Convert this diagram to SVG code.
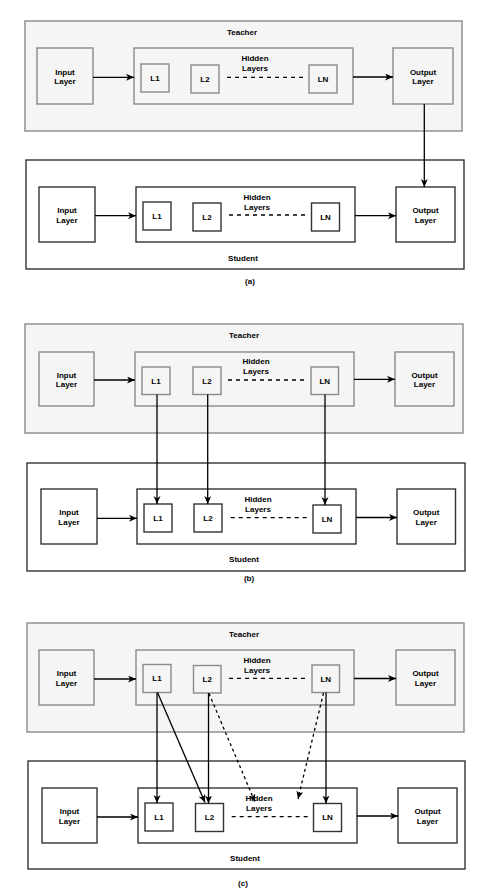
<svg xmlns="http://www.w3.org/2000/svg" width="484" height="889" viewBox="0 0 484 889">
<style>
.t{fill:#f5f5f5;stroke:#8a8a8a;stroke-width:1.4}
.s{fill:#ffffff;stroke:#333333;stroke-width:1.4}
text{font-family:"Liberation Sans",Arial,sans-serif;font-size:8px;font-weight:bold;fill:#000;text-anchor:middle}
.c{stroke:#000;stroke-width:1.3;fill:none}
.a{marker-end:url(#ah)}
.d{stroke-dasharray:4 4}
.d3{stroke-dasharray:3 3}
.bg{fill:#ffffff}
</style>
<defs>
<marker id="ah" markerUnits="userSpaceOnUse" markerWidth="9" markerHeight="8" refX="8" refY="3.5" orient="auto">
<path d="M0,0 L8,3.5 L0,7 L2.2,3.5 z" fill="#000"/>
</marker>
</defs>
<rect class="bg" x="0" y="0" width="484" height="889"/>

<!-- Panel (a) -->
<g id="a-teacher">
<rect class="t" x="25" y="21" width="437" height="110"/>
<text x="242" y="35">Teacher</text>
</g>
<g id="a-t-input"><rect class="t" x="37" y="48" width="56" height="56"/><text x="65" y="74.5">Input</text><text x="65" y="84">Layer</text></g>
<g id="a-t-hidden"><rect class="t" x="134" y="48" width="219" height="56"/><text x="255" y="60.5">Hidden</text><text x="255" y="70.5">Layers</text></g>
<g id="a-t-l1"><rect class="t" x="141" y="64" width="28" height="28"/><text x="155" y="80.9">L1</text></g>
<g id="a-t-l2"><rect class="t" x="191" y="65" width="28" height="28"/><text x="205" y="81.9">L2</text></g>
<g id="a-t-ln"><rect class="t" x="309" y="65" width="28" height="28"/><text x="323" y="81.9">LN</text></g>
<g id="a-t-output"><rect class="t" x="393" y="48" width="60" height="56"/><text x="423" y="74.5">Output</text><text x="423" y="84">Layer</text></g>

<g id="a-student">
<rect class="s" x="26" y="160" width="438" height="109"/>
<text x="243" y="260.5">Student</text>
</g>
<g id="a-s-input"><rect class="s" x="39" y="187" width="56" height="55"/><text x="67" y="213">Input</text><text x="67" y="222.5">Layer</text></g>
<g id="a-s-hidden"><rect class="s" x="136" y="187" width="219" height="55"/><text x="257" y="199.5">Hidden</text><text x="257" y="209.5">Layers</text></g>
<g id="a-s-l1"><rect class="s" x="143" y="202" width="28" height="28"/><text x="157" y="218.9">L1</text></g>
<g id="a-s-l2"><rect class="s" x="193" y="203" width="28" height="28"/><text x="207" y="219.9">L2</text></g>
<g id="a-s-ln"><rect class="s" x="311.5" y="203" width="28" height="28"/><text x="325.5" y="219.9">LN</text></g>
<g id="a-s-output"><rect class="s" x="396" y="187" width="59" height="55"/><text x="425.5" y="213">Output</text><text x="425.5" y="222.5">Layer</text></g>
<text x="250" y="284">(a)</text>

<!-- Panel (b) -->
<g id="b-teacher">
<rect class="t" x="25" y="324" width="438" height="109"/>
<text x="244" y="338">Teacher</text>
</g>
<g id="b-t-input"><rect class="t" x="39" y="352" width="55" height="54"/><text x="66.5" y="377.5">Input</text><text x="66.5" y="387">Layer</text></g>
<g id="b-t-hidden"><rect class="t" x="135" y="352" width="219" height="54"/><text x="256" y="364">Hidden</text><text x="256" y="374">Layers</text></g>
<g id="b-t-l1"><rect class="t" x="142" y="367" width="28" height="27.5"/><text x="156" y="383.7">L1</text></g>
<g id="b-t-l2"><rect class="t" x="193" y="367" width="28" height="27.5"/><text x="207" y="383.7">L2</text></g>
<g id="b-t-ln"><rect class="t" x="311" y="367" width="27.5" height="27.5"/><text x="324.8" y="383.7">LN</text></g>
<g id="b-t-output"><rect class="t" x="395" y="352" width="59" height="54"/><text x="424.5" y="377.5">Output</text><text x="424.5" y="387">Layer</text></g>

<g id="b-student">
<rect class="s" x="27" y="463" width="438" height="108"/>
<text x="244" y="562">Student</text>
</g>
<g id="b-s-input"><rect class="s" x="41" y="489" width="56" height="55"/><text x="69" y="515">Input</text><text x="69" y="524.5">Layer</text></g>
<g id="b-s-hidden"><rect class="s" x="137" y="489" width="219" height="55"/><text x="258" y="501.5">Hidden</text><text x="258" y="511.5">Layers</text></g>
<g id="b-s-l1"><rect class="s" x="144" y="504" width="28" height="28"/><text x="158" y="520.9">L1</text></g>
<g id="b-s-l2"><rect class="s" x="194" y="504" width="28" height="28"/><text x="208" y="520.9">L2</text></g>
<g id="b-s-ln"><rect class="s" x="313" y="505" width="28" height="28"/><text x="327" y="521.9">LN</text></g>
<g id="b-s-output"><rect class="s" x="397" y="489" width="58.5" height="55"/><text x="426.2" y="515">Output</text><text x="426.2" y="524.5">Layer</text></g>
<text x="249" y="580.5">(b)</text>

<!-- Panel (c) -->
<g id="c-teacher">
<rect class="t" x="27" y="623" width="437" height="109"/>
<text x="244" y="637">Teacher</text>
</g>
<g id="c-t-input"><rect class="t" x="39" y="650" width="55" height="55"/><text x="66.5" y="676">Input</text><text x="66.5" y="685.5">Layer</text></g>
<g id="c-t-hidden"><rect class="t" x="136" y="650" width="218" height="55"/><text x="257" y="662.5">Hidden</text><text x="257" y="672.5">Layers</text></g>
<g id="c-t-l1"><rect class="t" x="143" y="664.5" width="28" height="28"/><text x="157" y="681.4">L1</text></g>
<g id="c-t-l2"><rect class="t" x="193.5" y="665.5" width="27.5" height="27.5"/><text x="207.2" y="682.2">L2</text></g>
<g id="c-t-ln"><rect class="t" x="312" y="665" width="27.5" height="27.5"/><text x="325.8" y="681.7">LN</text></g>
<g id="c-t-output"><rect class="t" x="396" y="650" width="59" height="55"/><text x="425.5" y="676">Output</text><text x="425.5" y="685.5">Layer</text></g>

<g id="c-student">
<rect class="s" x="28" y="761" width="437" height="108"/>
<text x="245" y="861">Student</text>
</g>
<g id="c-s-input"><rect class="s" x="42" y="788" width="55" height="55"/><text x="69.5" y="814">Input</text><text x="69.5" y="823.5">Layer</text></g>
<g id="c-s-hidden"><rect class="s" x="138" y="788" width="219" height="55"/><text x="259" y="800.5">Hidden</text><text x="259" y="810.5">Layers</text></g>
<g id="c-s-l1"><rect class="s" x="145" y="803" width="28" height="28"/><text x="159" y="819.9">L1</text></g>
<g id="c-s-l2"><rect class="s" x="195.5" y="803.5" width="28" height="28"/><text x="209.5" y="820.4">L2</text></g>
<g id="c-s-ln"><rect class="s" x="313.5" y="803.5" width="28" height="28"/><text x="327.5" y="820.4">LN</text></g>
<g id="c-s-output"><rect class="s" x="398" y="788" width="59" height="55"/><text x="427.5" y="814">Output</text><text x="427.5" y="823.5">Layer</text></g>
<text x="243" y="885.5">(c)</text>

<g id="connectors">
<!-- (a) -->
<line class="c a" x1="93" y1="77.3" x2="134" y2="77.3"/>
<line class="c a" x1="353" y1="77" x2="393" y2="77"/>
<line class="c d" x1="227" y1="77.3" x2="306" y2="77.3"/>
<line class="c a" x1="424.3" y1="104" x2="424.3" y2="187"/>
<line class="c a" x1="95" y1="215.7" x2="136" y2="215.7"/>
<line class="c a" x1="355" y1="215.7" x2="396" y2="215.7"/>
<line class="c d" x1="229" y1="215" x2="307" y2="215"/>
<!-- (b) -->
<line class="c a" x1="94" y1="380" x2="135" y2="380"/>
<line class="c a" x1="354" y1="379.3" x2="395" y2="379.3"/>
<line class="c d" x1="228" y1="380" x2="307" y2="380"/>
<line class="c a" x1="97" y1="518.3" x2="137" y2="518.3"/>
<line class="c a" x1="356" y1="517.5" x2="397" y2="517.5"/>
<line class="c d" x1="230.7" y1="517.7" x2="309" y2="517.7"/>
<line class="c a" x1="157" y1="394.5" x2="157" y2="504"/>
<line class="c a" x1="207.7" y1="394.5" x2="207.7" y2="504"/>
<line class="c a" x1="325" y1="394.5" x2="325" y2="505"/>
<!-- (c) -->
<line class="c a" x1="94" y1="679" x2="136" y2="679"/>
<line class="c a" x1="354" y1="678.5" x2="396" y2="678.5"/>
<line class="c d" x1="229" y1="678.3" x2="307" y2="678.3"/>
<line class="c a" x1="97" y1="817" x2="138" y2="817"/>
<line class="c a" x1="357" y1="816" x2="398" y2="816"/>
<line class="c d" x1="231.7" y1="816.7" x2="310" y2="816.7"/>
<line class="c a" x1="157" y1="692.5" x2="157" y2="803"/>
<line class="c a" x1="157.5" y1="692.5" x2="205" y2="802.5"/>
<line class="c a" x1="208.5" y1="693" x2="208.5" y2="803.5"/>
<line class="c a d3" x1="209" y1="693.5" x2="255" y2="802"/>
<line class="c a d3" x1="323.5" y1="693" x2="298" y2="799"/>
<line class="c a" x1="326" y1="692.5" x2="326" y2="803.5"/>
</g>
</svg>
